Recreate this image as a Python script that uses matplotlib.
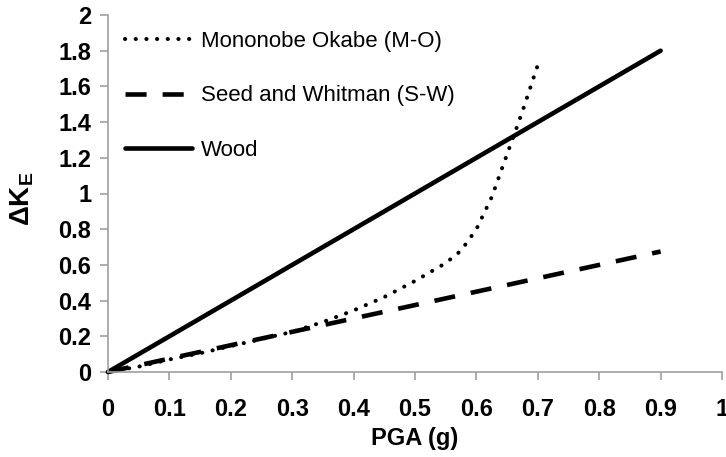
import matplotlib
matplotlib.use("Agg")
import matplotlib.pyplot as plt
import numpy as np

plt.rcParams['font.family'] = ['Liberation Sans', 'DejaVu Sans']
plt.rcParams['mathtext.fontset'] = 'custom'
plt.rcParams['mathtext.rm'] = 'Liberation Sans:bold'
plt.rcParams['mathtext.bf'] = 'Liberation Sans:bold'

# Data
pga_mo = [0.0, 0.05, 0.1, 0.15, 0.2, 0.25, 0.3, 0.35, 0.4, 0.45, 0.5, 0.55, 0.575, 0.6, 0.625, 0.65, 0.675, 0.7]
dk_mo = [0.0, 0.03, 0.07, 0.105, 0.145, 0.185, 0.225, 0.28, 0.345, 0.42, 0.51, 0.61, 0.68, 0.80, 0.98, 1.22, 1.46, 1.72]
pga_sw = [0.0, 0.9]
dk_sw = [0.0, 0.675]
pga_wood = [0.0, 0.9]
dk_wood = [0.0, 1.8]

labels = ["Mononobe Okabe (M-O)", "Seed and Whitman (S-W)", "Wood"]
xticks = [0, 0.1, 0.2, 0.3, 0.4, 0.5, 0.6, 0.7, 0.8, 0.9, 1]
yticks = [0, 0.2, 0.4, 0.6, 0.8, 1, 1.2, 1.4, 1.6, 1.8, 2]
xticklabels = ["0", "0.1", "0.2", "0.3", "0.4", "0.5", "0.6", "0.7", "0.8", "0.9", "1"]
yticklabels = ["0", "0.2", "0.4", "0.6", "0.8", "1", "1.2", "1.4", "1.6", "1.8", "2"]

fig = plt.figure(figsize=(7.26, 4.57), dpi=100)
ax = fig.add_axes([108/726, 85/457, 614/726, 357/457])

ax.plot(pga_mo, dk_mo, color='black', lw=2.9, linestyle=(0, (0.05, 2.6)),
        dash_capstyle='round', label=labels[0])
ax.plot(pga_sw, dk_sw, color='black', lw=3.3, linestyle=(0, (4.6, 3.5)),
        dash_capstyle='butt', label=labels[1])
ax.plot(pga_wood, dk_wood, color='black', lw=3.3, solid_capstyle='round', label=labels[2])

ax.set_xlim(0, 1)
ax.set_ylim(0, 2)
ax.set_xticks(xticks)
ax.set_xticklabels(xticklabels)
ax.set_yticks(yticks)
ax.set_yticklabels(yticklabels)

for s in ['top', 'right']:
    ax.spines[s].set_visible(False)
for s in ['left', 'bottom']:
    ax.spines[s].set_color('#a0a0a0')
    ax.spines[s].set_linewidth(1.2)
ax.tick_params(axis='both', direction='out', length=6, width=1.2, color='#a0a0a0',
               labelsize=17, pad=6)
ax.tick_params(axis='x', pad=13)
for lab in ax.get_xticklabels() + ax.get_yticklabels():
    lab.set_fontweight('bold')
for ln in ax.get_lines():
    ln.set_clip_on(False)

ax.set_xlabel("PGA (g)", fontsize=17, fontweight='bold')
ax.xaxis.set_label_coords(0.5, -0.155)
ax.set_ylabel("\u0394K$_\\mathbf{E}$", fontsize=20, fontweight='bold')
ax.yaxis.set_label_coords(-0.117, 0.485)

leg = ax.legend(loc='upper left', bbox_to_anchor=(0.0277, 0.955), frameon=False,
                fontsize=16, handlelength=3.0, handletextpad=0.4,
                labelspacing=1.5, borderpad=0, borderaxespad=0)

fig.savefig("out.png", dpi=100)
